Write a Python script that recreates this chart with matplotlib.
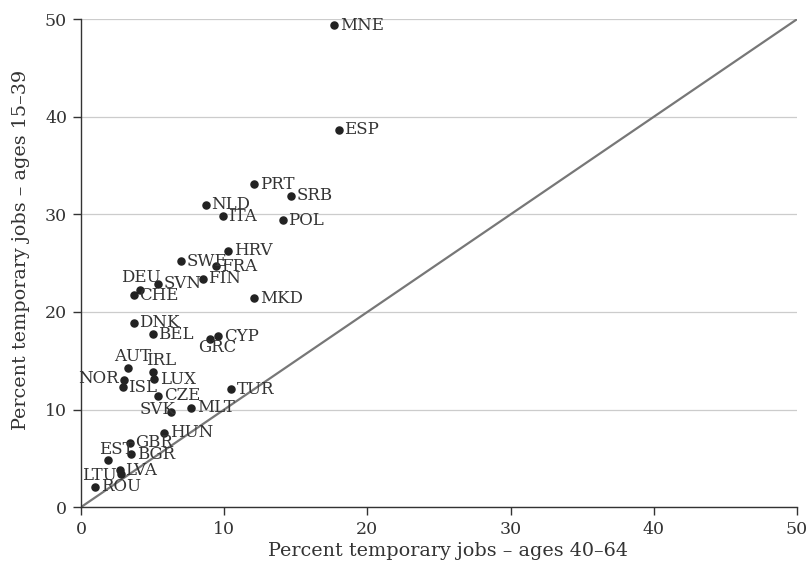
import matplotlib
matplotlib.use("Agg")
import matplotlib.pyplot as plt

# data
countries = ["MNE", "ESP", "PRT", "SRB", "NLD", "ITA", "POL", "HRV", "SWE", "FRA",
             "FIN", "DEU", "SVN", "CHE", "MKD", "DNK", "BEL", "CYP", "GRC", "AUT",
             "IRL", "NOR", "LUX", "ISL", "TUR", "CZE", "MLT", "SVK", "HUN", "GBR",
             "BGR", "EST", "LVA", "LTU", "ROU"]
ages_40_64 = [17.7, 18.0, 12.1, 14.7, 8.7, 9.9, 14.1, 10.3, 7.0, 9.4,
              8.5, 4.1, 5.4, 3.7, 12.1, 3.7, 5.0, 9.6, 9.0, 3.3,
              5.0, 3.0, 5.1, 2.9, 10.5, 5.4, 7.7, 6.3, 5.8, 3.4,
              3.5, 1.9, 2.7, 2.8, 1.0]
ages_15_39 = [49.4, 38.7, 33.1, 31.9, 31.0, 29.8, 29.4, 26.3, 25.2, 24.7,
              23.4, 22.3, 22.9, 21.7, 21.4, 18.9, 17.7, 17.5, 17.2, 14.3,
              13.9, 13.0, 13.1, 12.3, 12.1, 11.4, 10.2, 9.7, 7.6, 6.6,
              5.4, 4.8, 3.8, 3.4, 2.1]

# label placement: (dx, dy in points, horizontal alignment)
label_pos = {
    "DEU": (1, 9, "center"),
    "GRC": (5, -6, "center"),
    "AUT": (3, 8, "center"),
    "IRL": (-5, 8, "left"),
    "NOR": (-4, 1, "right"),
    "SVK": (3, 2, "right"),
    "EST": (6, 8, "center"),
    "LTU": (-3, -1, "right"),
}

plt.rcParams["font.family"] = ["DejaVu Serif"]
txt = "#333333"

fig = plt.figure(figsize=(8.09, 5.66), dpi=100)
ax = fig.add_axes([0.1001, 0.104, 0.885, 0.862])

ax.plot([0, 50], [0, 50], color="#777777", lw=1.6, zorder=1)
ax.scatter(ages_40_64, ages_15_39, s=26, color="#222222", zorder=3)

for c, x, y in zip(countries, ages_40_64, ages_15_39):
    dx, dy, ha = label_pos.get(c, (4, 0, "left"))
    ax.annotate(c, (x, y), xytext=(dx, dy), textcoords="offset points",
                ha=ha, va="center", fontsize=12, color=txt, zorder=4)

ax.set_xlim(0, 50)
ax.set_ylim(0, 50)
ax.set_xticks([0, 10, 20, 30, 40, 50])
ax.set_yticks([0, 10, 20, 30, 40, 50])
ax.yaxis.grid(True, color="#cccccc", lw=0.9)
ax.set_axisbelow(True)
for s in ["top", "right"]:
    ax.spines[s].set_visible(False)
for s in ["left", "bottom"]:
    ax.spines[s].set_color("#333333")
    ax.spines[s].set_linewidth(1.0)
ax.tick_params(colors="#333333", labelcolor=txt, labelsize=12.5, length=6, width=1, pad=4)

ax.set_xlabel("Percent temporary jobs \u2013 ages 40\u201364", fontsize=13.8, color=txt,
              labelpad=3, x=0.513)
ax.set_ylabel("Percent temporary jobs \u2013 ages 15\u201339", fontsize=13.8, color=txt,
              labelpad=11, y=0.527)

fig.savefig("out.png", dpi=100)
